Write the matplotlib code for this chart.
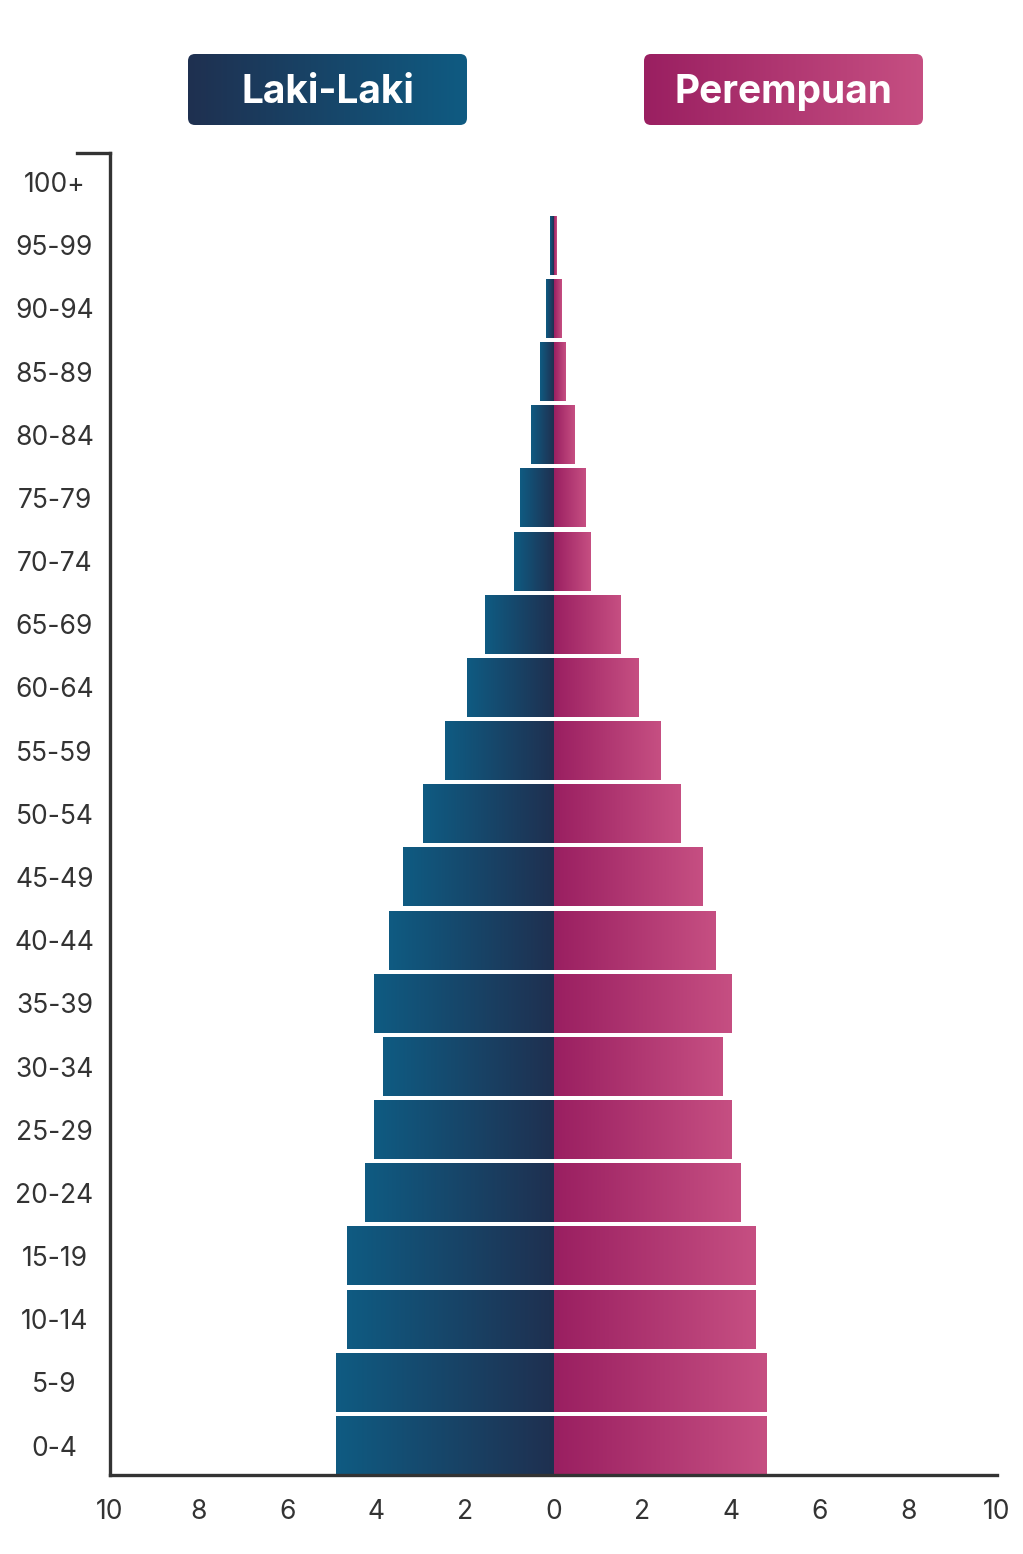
import numpy as np
import matplotlib.pyplot as plt
from matplotlib.colors import LinearSegmentedColormap
from matplotlib.patches import FancyBboxPatch
from matplotlib.lines import Line2D

plt.rcParams['font.family'] = ['Inter', 'DejaVu Sans']

# age groups, bottom to top
ages = ['0-4', '5-9', '10-14', '15-19', '20-24', '25-29', '30-34', '35-39',
        '40-44', '45-49', '50-54', '55-59', '60-64', '65-69', '70-74',
        '75-79', '80-84', '85-89', '90-94', '95-99', '100+']
laki = [4.9, 4.9, 4.65, 4.65, 4.25, 4.05, 3.85, 4.05, 3.7, 3.4, 2.95,
        2.45, 1.95, 1.55, 0.88, 0.75, 0.5, 0.3, 0.18, 0.08, 0]
perempuan = [4.8, 4.8, 4.55, 4.55, 4.2, 4.0, 3.8, 4.0, 3.65, 3.35, 2.85,
             2.4, 1.9, 1.5, 0.83, 0.72, 0.47, 0.27, 0.16, 0.05, 0]
xticks = [-10, -8, -6, -4, -2, 0, 2, 4, 6, 8, 10]
xticklabels = ['10', '8', '6', '4', '2', '0', '2', '4', '6', '8', '10']

navy = '#1f3050'
teal = '#0f5b82'
magenta = '#9a1f61'
pink = '#c64f82'
male_cmap = LinearSegmentedColormap.from_list('m', [teal, navy])
female_cmap = LinearSegmentedColormap.from_list('f', [magenta, pink])
grad = np.linspace(0, 1, 256).reshape(1, -1)

W, H = 1023, 1554
fig = plt.figure(figsize=(W / 100, H / 100), dpi=100)
ax = fig.add_axes([110 / W, 1 - 1475 / H, 887 / W, 1322 / H])

h = 0.93
y = np.arange(len(ages))
for yi, m, f in zip(y, laki, perempuan):
    if m > 0:
        ax.imshow(grad, cmap=male_cmap, aspect='auto',
                  extent=(-m, 0, yi - h / 2, yi + h / 2), zorder=2)
    if f > 0:
        ax.imshow(grad, cmap=female_cmap, aspect='auto',
                  extent=(0, f, yi - h / 2, yi + h / 2), zorder=2)

ax.set_xlim(-10, 10)
ax.set_ylim(-0.465, 20.46)
ax.set_xticks(xticks)
ax.set_xticklabels(xticklabels)
ax.set_yticks(y)
ax.set_yticklabels(ages, ha='center', va='center_baseline')
ax.tick_params(axis='x', length=0, pad=17, labelsize=19, labelcolor='#333333')
ax.tick_params(axis='y', length=0, pad=40, labelsize=19, labelcolor='#333333')

for s in ['top', 'right']:
    ax.spines[s].set_visible(False)
for s in ['left', 'bottom']:
    ax.spines[s].set_color('#333333')
    ax.spines[s].set_linewidth(2.4)
    ax.spines[s].set_zorder(4)
# small cap at the top of the left axis
ax.add_line(Line2D([-33 / 887, 0], [1, 1], transform=ax.transAxes,
                   color='#333333', linewidth=2.4, clip_on=False,
                   solid_capstyle='projecting'))

# legend boxes with gradient
def legend_box(x0, label, cmap):
    bw, bh = 279, 71
    lax = fig.add_axes([x0 / W, 1 - 125 / H, bw / W, bh / H])
    lax.set_axis_off()
    im = lax.imshow(grad, cmap=cmap, aspect='auto', extent=(0, 1, 0, 1))
    lax.set_xlim(0, 1)
    lax.set_ylim(0, 1)
    box = FancyBboxPatch((0, 0), 1, 1, boxstyle='round,pad=0,rounding_size=0.025',
                         mutation_aspect=bw / bh, transform=lax.transAxes,
                         facecolor='none', edgecolor='none')
    lax.add_patch(box)
    im.set_clip_path(box)
    lax.text(0.5, 0.46, label, transform=lax.transAxes, ha='center', va='center',
             color='white', fontsize=28, fontweight='bold')

legend_box(188, 'Laki-Laki', LinearSegmentedColormap.from_list('lm', [navy, teal]))
legend_box(644, 'Perempuan', female_cmap)

fig.savefig('out.png', dpi=100)
